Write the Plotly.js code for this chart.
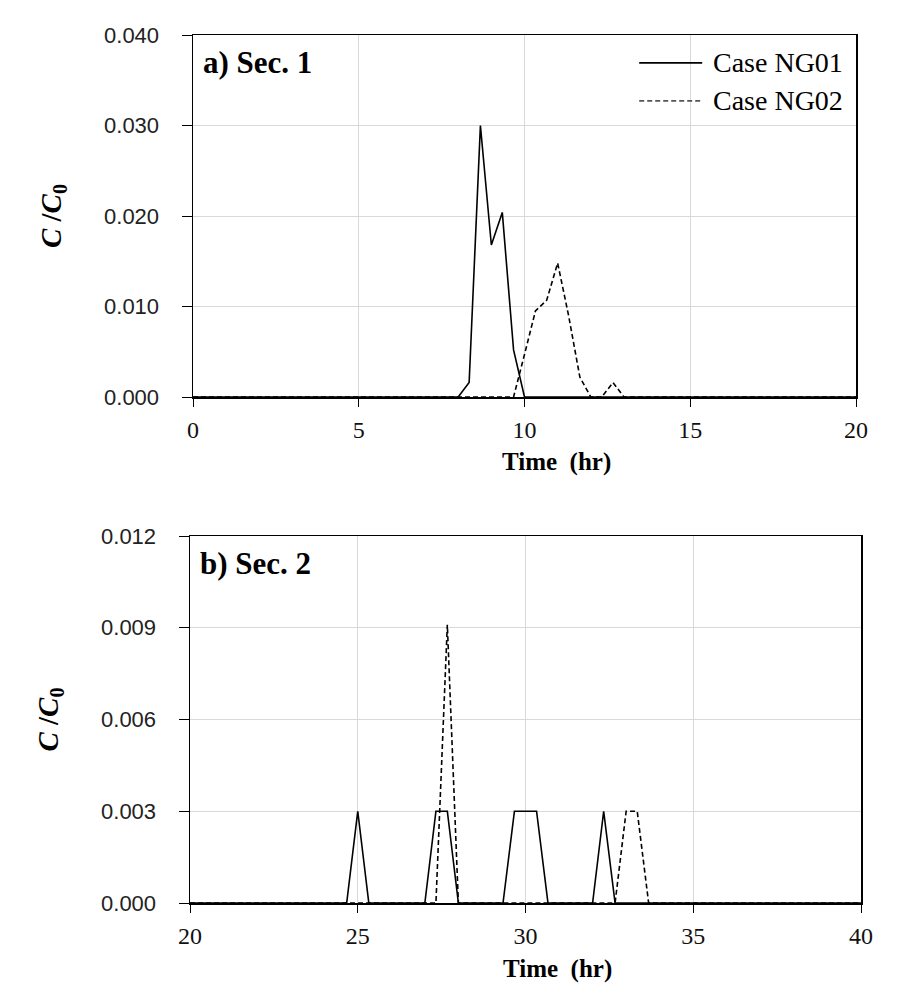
<!DOCTYPE html>
<html>
<head>
<meta charset="utf-8">
<script src="https://cdn.plot.ly/plotly-3.0.1.min.js"></script>
<style>
  html, body { margin: 0; padding: 0; background: #fff; }
  #chart { width: 909px; height: 1000px; }
</style>
</head>
<body>
<div id="chart"></div>
<script>
// series names
const seriesNames = ["Case NG01", "Case NG02"];
const panelLabels = ["a) Sec. 1", "b) Sec. 2"];

// a) Sec. 1 — time (hr) and C/C0
const timeA1 = [0, 8, 8.33, 8.67, 9, 9.33, 9.67, 10, 20];
const concA1 = [0, 0, 0.0016, 0.0300, 0.0168, 0.0204, 0.0052, 0, 0];
const timeA2 = [0, 9.67, 10, 10.33, 10.67, 11, 11.33, 11.67, 12, 12.33, 12.67, 13, 20];
const concA2 = [0, 0, 0.0047, 0.0095, 0.0107, 0.0148, 0.0090, 0.0022, 0, 0, 0.0016, 0, 0];

// b) Sec. 2
const timeB1 = [20, 24.67, 25, 25.33, 27, 27.33, 27.67, 28, 29.33, 29.67, 30, 30.33, 30.67, 32, 32.33, 32.67, 40];
const concB1 = [0, 0, 0.003, 0, 0, 0.003, 0.003, 0, 0, 0.003, 0.003, 0.003, 0, 0, 0.003, 0, 0];
const timeB2 = [20, 27.33, 27.67, 28, 32.67, 33, 33.33, 33.67, 40];
const concB2 = [0, 0, 0.0091, 0, 0, 0.003, 0.003, 0, 0];

// axis ticks
const xTicksA = [0, 5, 10, 15, 20];
const xTicksB = [20, 25, 30, 35, 40];
const yTicksA = [0, 0.01, 0.02, 0.03, 0.04];
const yTicksB = [0, 0.003, 0.006, 0.009, 0.012];

const W = 909, H = 1000;
const serif = "'Liberation Serif', 'Times New Roman', serif";
const sans = "'Liberation Sans', Arial, sans-serif";

const solid = { color: "#000", width: 1.6, dash: "solid" };
const dashed = { color: "#000", width: 1.6, dash: "5px,3px" };

const traces = [
  { x: timeA1, y: concA1, xaxis: "x", yaxis: "y", mode: "lines", name: seriesNames[0], line: solid },
  { x: timeA2, y: concA2, xaxis: "x", yaxis: "y", mode: "lines", name: seriesNames[1], line: dashed },
  { x: timeB1, y: concB1, xaxis: "x2", yaxis: "y2", mode: "lines", name: seriesNames[0], line: solid },
  { x: timeB2, y: concB2, xaxis: "x2", yaxis: "y2", mode: "lines", name: seriesNames[1], line: dashed }
];

function xAxis(domainPx, ticks, anchor) {
  return {
    domain: [domainPx[0] / W, domainPx[1] / W],
    anchor,
    range: [ticks[0], ticks[ticks.length - 1]],
    tickvals: ticks,
    ticks: "outside", ticklen: 8, tickcolor: "#000", tickwidth: 1,
    showline: true, linecolor: "#000", linewidth: 1.5, mirror: true,
    showgrid: true, gridcolor: "#d9d9d9", gridwidth: 1,
    zeroline: false,
    tickfont: { family: serif, size: 24, color: "#111" },
    ticklabelstandoff: 3
  };
}

function yAxis(domainPx, ticks, anchor) {
  return {
    domain: [1 - domainPx[1] / H, 1 - domainPx[0] / H],
    anchor,
    range: [ticks[0], ticks[ticks.length - 1]],
    tickvals: ticks,
    tickformat: ".3f",
    ticks: "outside", ticklen: 10, tickcolor: "#000", tickwidth: 1,
    showline: true, linecolor: "#000", linewidth: 1.5, mirror: true,
    showgrid: true, gridcolor: "#d9d9d9", gridwidth: 1,
    zeroline: false,
    tickfont: { family: sans, size: 22, color: "#222" },
    ticklabelstandoff: 18,
    title: {
      text: "<i>C</i> /<i>C</i><sub>0</sub>",
      font: { family: serif, size: 29, color: "#000", weight: "bold" },
      standoff: 34
    }
  };
}

const annotations = [];
const shapes = [];

function panelDecor(xa, ya, label, withLegend) {
  annotations.push({
    xref: xa + " domain", yref: ya + " domain", x: 0.012, y: 0.925,
    xanchor: "left", yanchor: "middle", showarrow: false,
    text: "<b>" + label + "</b>",
    font: { family: serif, size: 31, color: "#000" }
  });
  annotations.push({
    xref: xa + " domain", yref: ya + " domain", x: 0.548, y: -0.18,
    xanchor: "center", yanchor: "middle", showarrow: false,
    text: "<b>Time  (hr)</b>",
    font: { family: serif, size: 25, color: "#000" }
  });
  if (withLegend) {
    const rows = [0.923, 0.818];
    const styles = [solid, dashed];
    rows.forEach((yy, i) => {
      shapes.push({
        type: "line", xref: xa + " domain", yref: ya + " domain",
        x0: 0.673, x1: 0.768, y0: yy, y1: yy,
        line: { color: i ? "#555" : "#000", width: 1.6, dash: styles[i].dash }
      });
      annotations.push({
        xref: xa + " domain", yref: ya + " domain", x: 0.782, y: yy,
        xanchor: "left", yanchor: "middle", showarrow: false,
        text: seriesNames[i],
        font: { family: serif, size: 28, color: "#000" }
      });
    });
  }
}

panelDecor("x", "y", panelLabels[0], true);
panelDecor("x2", "y2", panelLabels[1], false);

const layout = {
  width: W, height: H,
  margin: { l: 0, r: 0, t: 0, b: 0 },
  paper_bgcolor: "#fff", plot_bgcolor: "#fff",
  showlegend: false,
  xaxis: xAxis([193, 856], xTicksA, "y"),
  yaxis: yAxis([35, 397], yTicksA, "x"),
  xaxis2: xAxis([190, 861], xTicksB, "y2"),
  yaxis2: yAxis([536, 903], yTicksB, "x2"),
  annotations,
  shapes
};

Plotly.newPlot("chart", traces, layout, { displayModeBar: false, staticPlot: true });
</script>
</body>
</html>
